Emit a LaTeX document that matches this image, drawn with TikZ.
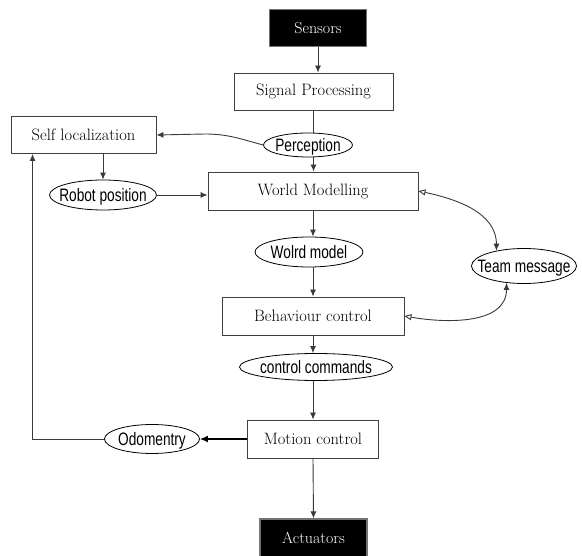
\documentclass[tikz,border=0pt]{standalone}
\usepackage{fontspec}
\usetikzlibrary{arrows.meta,shapes.geometric}
\newfontfamily\ellfont[FakeStretch=0.76]{Liberation Sans}
\newcommand{\elltext}[1]{\smash{\raisebox{-0.36em}{\makebox[0pt]{#1}}}}
\definecolor{lineg}{HTML}{3A3A3A}
\begin{document}
\begin{tikzpicture}[x=1pt,y=-1pt,
  boxn/.style={draw=black!75,line width=0.9pt,fill=white,inner sep=0pt,
    font=\fontsize{16.5}{18}\selectfont},
  blackn/.style={draw=black!55,line width=1.2pt,fill=black,text=white,inner sep=0pt,
    font=\fontsize{16}{18}\selectfont},
  elln/.style={ellipse,draw=black,line width=0.8pt,fill=white,inner sep=0pt,
    font=\ellfont\fontsize{18}{20}\selectfont},
  conn/.style={draw=lineg,line width=0.9pt,-{Latex[length=7pt,width=6pt]}},
  twoway/.style={draw=lineg,line width=0.9pt,{Triangle[open,length=7pt,width=6pt]}-{Latex[length=7pt,width=6pt]}}
]
\useasboundingbox (0,0) rectangle (582,556);
\node[blackn,minimum width=97pt,minimum height=37pt] (sen) at (318,28) {Sensors};
\node[boxn,minimum width=159pt,minimum height=37pt] (sp) at (313.5,91.5) {Signal Processing};
\node[boxn,minimum width=145pt,minimum height=37pt] (sl) at (83.5,135) {Self localization};
\node[boxn,minimum width=210pt,minimum height=38pt] (wm) at (313,191) {World Modelling};
\node[boxn,minimum width=182pt,minimum height=38pt] (bc) at (313,316) {Behaviour control};
\node[boxn,minimum width=131pt,minimum height=38pt] (mc) at (313,439) {Motion control};
\node[blackn,minimum width=107pt,minimum height=38pt] (act) at (313.5,538) {Actuators};

\node[elln,minimum width=89pt,minimum height=24pt] (per) at (308,145) {\elltext{Perception}};
\node[elln,minimum width=107pt,minimum height=30pt] (rp) at (103,195) {\elltext{Robot position}};
\node[elln,minimum width=108pt,minimum height=30pt] (wmod) at (309,252) {\elltext{Wolrd model}};
\node[elln,minimum width=105pt,minimum height=35pt] (tm) at (524,266) {\elltext{Team message}};
\node[elln,minimum width=153pt,minimum height=27pt] (cc) at (316,367) {\elltext{control commands}};
\node[elln,minimum width=95pt,minimum height=29pt] (odo) at (152,439) {\elltext{Odomentry}};

\coordinate (pc) at (205,134);

\draw[conn] (sen.south) -- (sen.south |- sp.north);
\draw[draw=lineg,line width=0.9pt] (sp.south) -- (sp.south |- per.north);
\draw[conn] (per.south -| sp.south) -- (sp.south |- wm.north);
\draw[conn] (per.west) to[out=165,in=0] (pc) -- (sl.east);
\draw[conn] (rp.north |- sl.south) -- (rp.north);
\draw[conn] (rp.east) -- (rp.east -| wm.west);
\draw[conn] (wm.south) -- (wmod.north -| wm.south);
\draw[conn] (wmod.south -| wm.south) -- (bc.north);
\draw[conn] (bc.south) -- (cc.north -| bc.south);
\draw[conn] (cc.south -| bc.south) -- (mc.north);
\draw[conn] (mc.south) -- (act.north);
\draw[draw=black,line width=1.4pt,-{Latex[length=8pt,width=7pt]}] (mc.west) -- (odo.east);
\draw[conn] (odo.west) -| ([xshift=22pt]sl.south west);
\draw[twoway] (wm.east) to[out=-12,in=90] (tm.151);
\draw[twoway] (bc.east) to[out=-10,in=-90] (tm.224);
\end{tikzpicture}
\end{document}
